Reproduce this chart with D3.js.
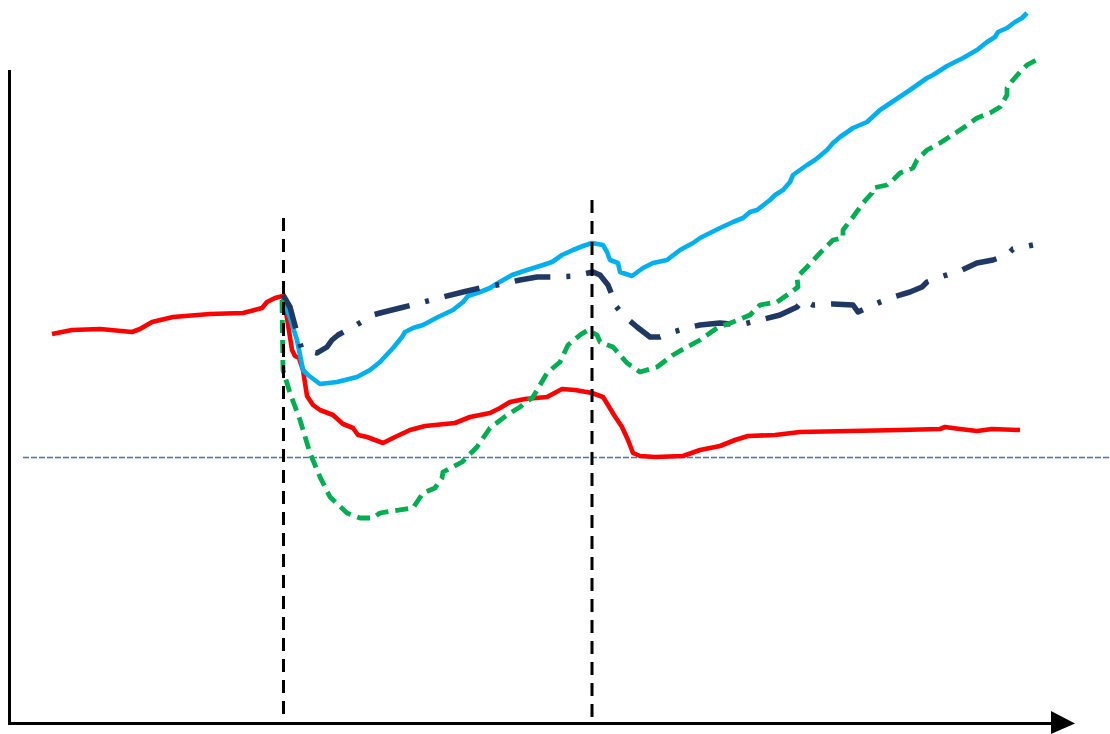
<!DOCTYPE html>
<html>
<head>
<meta charset="utf-8">
<script src="https://cdn.jsdelivr.net/npm/d3@7"></script>
<style>
  html, body { margin: 0; padding: 0; background: #ffffff; }
  svg { display: block; }
</style>
</head>
<body>
<svg id="chart" width="1110" height="734"></svg>
<script>
// ---- data (t = time units from the axis origin, v = level) ----
const redT = [43,63,91,123,131,143,164,201,234,253,258,266,274,278,283,286,290,294,298,304,311,324,334,344,349,358,374,386,401,416,446,461,481,491,501,516,538,553,566,583,594,599,605,613,619,624,631,646,674,691,711,726,739,766,791,841,891,931,936,951,968,983,1011];
const redV = [388,392,393,390,393,400,405,408,409,414,420,424,426,404,372,366,364,352,326,317,312,307,298,294,287,285,279,285,292,296,299,305,309,314,320,323,325,333,332,329,325,317,307,295,282,269,266,265,266,272,276,282,286,287,290,291,292,293,295,293,291,293,292];

const blueT = [274,281,288,294,299,311,328,348,361,371,384,393,396,404,414,429,444,454,459,471,481,489,503,518,534,543,553,564,574,583,594,598,601,609,611,623,634,644,658,671,684,691,711,724,734,741,748,761,766,774,781,784,798,806,818,824,831,844,858,871,883,901,918,924,938,954,968,978,986,989,998,1006,1013,1018];
const blueV = [425,404,382,352,347,338,340,345,352,360,374,385,390,394,397,405,412,420,426,430,434,439,447,452,457,460,467,472,476,479,477,470,462,459,450,446,454,459,462,472,479,484,494,500,504,510,512,522,527,532,540,547,557,562,572,579,585,594,600,612,620,632,644,647,656,664,672,680,685,690,694,700,704,709];

const greenT = [273,274,281,291,301,311,321,338,351,364,371,404,414,426,433,434,453,468,481,498,511,524,538,551,559,571,579,588,591,604,618,631,648,664,678,691,708,724,741,751,768,781,789,788,798,811,824,834,834,844,854,863,864,878,884,891,904,908,918,931,948,954,968,981,991,998,998,1004,1011,1018,1031];
const greenV = [422,352,329,302,269,245,225,209,204,204,209,214,229,234,244,250,260,275,294,307,315,325,349,360,377,387,392,387,380,375,359,350,355,367,375,382,394,400,407,417,420,429,435,445,455,469,482,484,492,505,519,529,534,537,542,549,554,562,572,579,590,594,604,609,615,627,634,642,650,657,664];

const navyT = [274,281,288,293,308,318,323,329,344,364,371,391,411,434,454,471,488,511,528,546,566,584,591,599,603,602,614,628,641,651,664,678,691,711,731,751,771,788,794,804,824,844,849,864,881,901,913,918,931,951,968,984,998,1004,1024];
const navyV = [427,415,389,372,369,375,382,387,395,407,409,414,419,425,430,434,437,442,445,445,446,450,447,437,427,422,407,395,385,385,390,394,397,399,397,402,407,415,422,417,418,417,410,417,424,430,435,440,445,451,459,462,467,473,477];

const baselineV = 264.5;        // horizontal reference level
const eventT = [274.5, 583];     // event markers (vertical dashed lines)
const eventTop = [504, 522];     // top level of each event marker

// ---- scales ----
const svg = d3.select("#chart");
const x = d3.scaleLinear().domain([0, 1101]).range([9, 1110]);
const y = d3.scaleLinear().domain([0, 722]).range([722, 0]);

const line = d3.line().x(d => x(d[0])).y(d => y(d[1]));
const zip = (a, b) => a.map((t, i) => [t, b[i]]);

// ---- axes ----
svg.append("line")
  .attr("x1", x(0.5)).attr("x2", x(0.5))
  .attr("y1", y(652)).attr("y2", y(-3))
  .attr("stroke", "#000").attr("stroke-width", 3);
svg.append("line")
  .attr("x1", x(-1)).attr("x2", x(1044))
  .attr("y1", y(-1.5)).attr("y2", y(-1.5))
  .attr("stroke", "#000").attr("stroke-width", 3);
svg.append("path")
  .attr("d", d3.line()([[x(1042), y(11)], [x(1066), y(-1.5)], [x(1042), y(-12)]]) + "Z")
  .attr("fill", "#000");

// baseline dashed
svg.append("line")
  .attr("x1", x(14)).attr("x2", x(1101))
  .attr("y1", y(baselineV)).attr("y2", y(baselineV))
  .attr("stroke", "#4472C4").attr("stroke-width", 1.6)
  .attr("stroke-dasharray", "6,2");

// ---- series ----
const series = [
  { t: redT, v: redV, color: "#FF0000", w: 4.6, dash: null },
  { t: blueT, v: blueV, color: "#00B0F0", w: 4.6, dash: null },
  { t: navyT, v: navyV, color: "#203864", w: 5.5, dash: "36,16,4,16" },
  { t: greenT, v: greenV, color: "#00B050", w: 4.8, dash: "13,7" }
];
series.forEach(s => {
  svg.append("path")
    .datum(zip(s.t, s.v))
    .attr("d", line)
    .attr("fill", "none")
    .attr("stroke", s.color)
    .attr("stroke-width", s.w)
    .attr("stroke-linejoin", "round")
    .attr("stroke-dasharray", s.dash);
});

// event markers
eventT.forEach((t, i) => {
  svg.append("line")
    .attr("x1", x(t)).attr("x2", x(t))
    .attr("y1", y(eventTop[i])).attr("y2", y(-1.5))
    .attr("stroke", "#000").attr("stroke-width", 3)
    .attr("stroke-dasharray", "13,8");
});
</script>
</body>
</html>
